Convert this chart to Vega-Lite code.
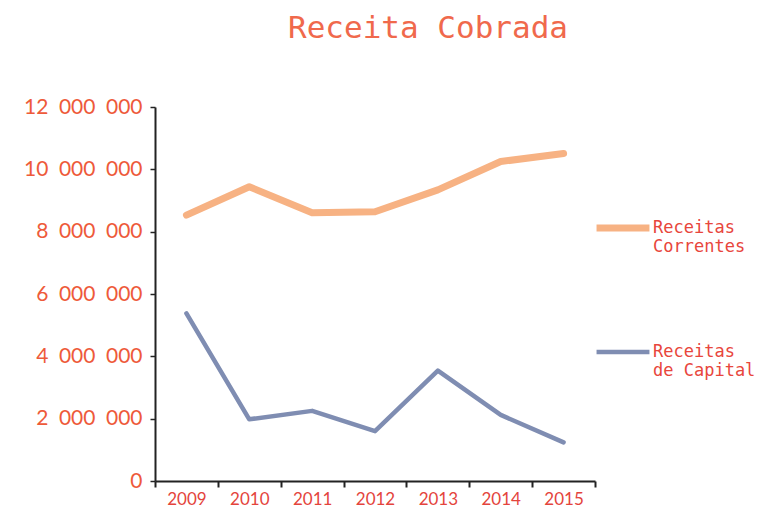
{
  "$schema": "https://vega.github.io/schema/vega-lite/v6.json",
  "autosize": "none",
  "width": 440,
  "height": 374,
  "padding": {"left": 155, "top": 107, "right": 167, "bottom": 28},
  "background": "white",
  "title": {
    "text": "Receita Cobrada",
    "font": "DejaVu Sans Mono",
    "fontSize": 31,
    "fontWeight": "normal",
    "color": "#F0694C",
    "anchor": "middle",
    "dx": 53,
    "offset": 51
  },
  "data": {
    "values": [
      {"ano": "2009", "serie": "Receitas Correntes", "valor": 8530000},
      {"ano": "2010", "serie": "Receitas Correntes", "valor": 9440000},
      {"ano": "2011", "serie": "Receitas Correntes", "valor": 8610000},
      {"ano": "2012", "serie": "Receitas Correntes", "valor": 8640000},
      {"ano": "2013", "serie": "Receitas Correntes", "valor": 9340000},
      {"ano": "2014", "serie": "Receitas Correntes", "valor": 10250000},
      {"ano": "2015", "serie": "Receitas Correntes", "valor": 10510000},
      {"ano": "2009", "serie": "Receitas de Capital", "valor": 5380000},
      {"ano": "2010", "serie": "Receitas de Capital", "valor": 1980000},
      {"ano": "2011", "serie": "Receitas de Capital", "valor": 2250000},
      {"ano": "2012", "serie": "Receitas de Capital", "valor": 1600000},
      {"ano": "2013", "serie": "Receitas de Capital", "valor": 3540000},
      {"ano": "2014", "serie": "Receitas de Capital", "valor": 2120000},
      {"ano": "2015", "serie": "Receitas de Capital", "valor": 1240000}
    ]
  },
  "mark": {"type": "line", "strokeCap": "round", "strokeJoin": "round"},
  "encoding": {
    "x": {
      "field": "ano",
      "type": "ordinal",
      "scale": {"type": "band", "paddingInner": 0, "paddingOuter": 0},
      "axis": {
        "title": null,
        "labelAngle": 0,
        "tickBand": "extent",
        "labelFont": "Lato",
        "labelFontSize": 17,
        "labelColor": "#E4443C",
        "labelPadding": 4,
        "domainColor": "#222222",
        "domainWidth": 2,
        "tickColor": "#222222",
        "tickWidth": 2,
        "tickSize": 6
      }
    },
    "y": {
      "field": "valor",
      "type": "quantitative",
      "scale": {"domain": [0, 12000000]},
      "axis": {
        "title": null,
        "values": [0, 2000000, 4000000, 6000000, 8000000, 10000000, 12000000],
        "format": ",d",
        "grid": false,
        "labelFont": "Lato",
        "labelFontSize": 21,
        "labelColor": "#EE5A3A",
        "labelPadding": 8,
        "domainColor": "#222222",
        "domainWidth": 2,
        "tickColor": "#222222",
        "tickWidth": 1.5,
        "tickSize": 5
      }
    },
    "color": {
      "field": "serie",
      "type": "nominal",
      "scale": {"domain": ["Receitas Correntes", "Receitas de Capital"], "range": ["#F7B283", "#7F8DB2"]},
      "legend": {
        "title": null,
        "orient": "none",
        "legendX": 438,
        "legendY": 91,
        "direction": "vertical",
        "symbolType": "stroke",
        "symbolSize": 2800,
        "symbolStrokeWidth": 5,
        "labelFont": "DejaVu Sans Mono",
        "labelFontSize": 17,
        "labelColor": "#E8463C",
        "labelOffset": 0,
        "labelBaseline": "middle",
        "labelExpr": "[slice(datum.label, 0, 8), slice(datum.label, 9)]",
        "rowPadding": 68
      }
    },
    "strokeWidth": {
      "field": "serie",
      "type": "nominal",
      "scale": {"domain": ["Receitas Correntes", "Receitas de Capital"], "range": [7, 4.5]},
      "legend": null
    }
  },
  "config": {
    "view": {"stroke": null},
    "locale": {"number": {"decimal": ",", "thousands": "\u2002", "grouping": [3], "currency": ["", ""]}}
  }
}
